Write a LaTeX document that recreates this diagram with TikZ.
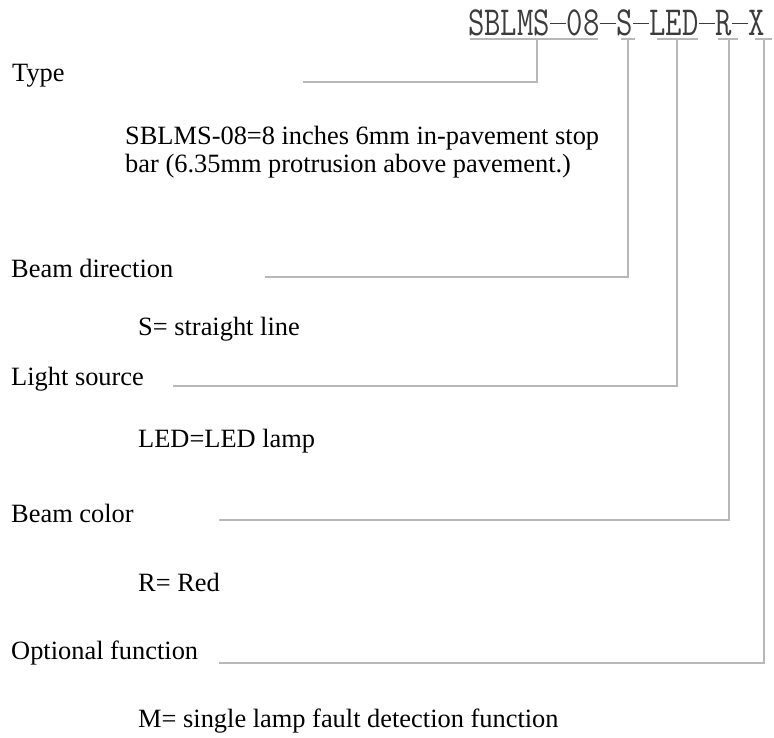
\documentclass[tikz,border=0pt]{standalone}
\usepackage{fontspec}
\setmainfont{Liberation Serif}
\definecolor{leader}{HTML}{B8B8B8}
\definecolor{codeink}{HTML}{3C3C3C}
% a full-cell dash for the monospaced part code
\newcommand\cdash{\makebox[0.525em]{\rule[0.29em]{0.5em}{0.03em}}}
\begin{document}
\begin{tikzpicture}[x=1pt,y=-1pt,
  lbl/.style={anchor=base west,inner sep=0pt,font=\fontsize{26.4}{28}\selectfont},
  leader/.style={draw=leader,line width=1.3pt}]
\useasboundingbox (0,0) rectangle (774,738);
% part code
\node[anchor=base west,inner sep=0pt,text=codeink] (code) at (468,36)
  {\scalebox{1}[1.3]{\fontsize{31.8}{32}\ttfamily SBLMS\cdash08\cdash S\cdash LED\cdash R\cdash X}};
% field labels
\node[lbl] (type) at (12,82) {Type};
\node[lbl] (dir) at (11,277) {Beam direction};
\node[lbl] (src) at (11,385) {Light source};
\node[lbl] (col) at (11,522) {Beam color};
\node[lbl] (opt) at (11,659) {Optional function};
% explanations
\node[lbl] (typeA) at (125,145) {SBLMS-08=8 inches 6mm in-pavement stop};
\node[lbl] (typeB) at (125,173) {bar (6.35mm protrusion above pavement.)};
\node[lbl] (dirD) at (138,335) {S= straight line};
\node[lbl] (srcD) at (138,447) {LED=LED lamp};
\node[lbl] (colD) at (138,591) {R= Red};
\node[lbl] (optD) at (138,727) {M= single lamp fault detection function};
% leader end points
\coordinate (t0) at (303,82);  \coordinate (t1) at (537,82);  \coordinate (t2) at (537,39);
\coordinate (s0) at (265,277); \coordinate (s1) at (628,277); \coordinate (s2) at (628,39);
\coordinate (l0) at (173,386); \coordinate (l1) at (677,386); \coordinate (l2) at (677,39);
\coordinate (r0) at (219,520); \coordinate (r1) at (729,520); \coordinate (r2) at (729,39);
\coordinate (x0) at (219,663); \coordinate (x1) at (764,663); \coordinate (x2) at (764,39);
% underlines beneath each code segment
\coordinate (ua) at (470,39); \coordinate (ub) at (598,39);
\coordinate (uc) at (621,39); \coordinate (ud) at (635,39);
\coordinate (ue) at (657,39); \coordinate (uf) at (698,39);
\coordinate (ug) at (718,39); \coordinate (uh) at (738,39);
\coordinate (ui) at (755,39); \coordinate (uj) at (772,39);
\draw[leader] (ua) -- (ub);
\draw[leader] (uc) -- (ud);
\draw[leader] (ue) -- (uf);
\draw[leader] (ug) -- (uh);
\draw[leader] (ui) -- (uj);
% leaders
\draw[leader] (t0) -- (t1) -- (t2);
\draw[leader] (s0) -- (s1) -- (s2);
\draw[leader] (l0) -- (l1) -- (l2);
\draw[leader] (r0) -- (r1) -- (r2);
\draw[leader] (x0) -- (x1) -- (x2);
\end{tikzpicture}
\end{document}
